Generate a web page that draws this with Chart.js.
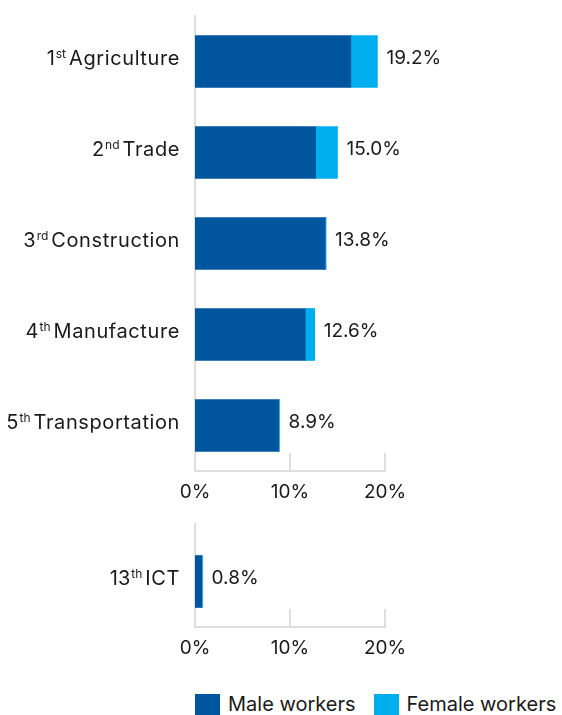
<!DOCTYPE html>
<html><head><meta charset="utf-8">
<script src="https://cdn.jsdelivr.net/npm/chart.js@4.4.1/dist/chart.umd.min.js"></script>
<style>
html,body{margin:0;padding:0;background:#fff;}
canvas{display:block;}
#legend{position:absolute;top:694px;left:195px;width:370px;display:flex;align-items:center;white-space:nowrap;font-family:Inter,sans-serif;font-size:20px;line-height:21px;color:#1a1a1a;letter-spacing:0px;}
#legend .item{display:flex;align-items:center;margin-right:18px;flex:none;}
#legend .box{width:25px;height:21px;margin-right:8px;flex:none;}
</style></head>
<body>
<canvas id="top" width="562" height="505"></canvas>
<canvas id="bot" width="562" height="180"></canvas>
<div id="legend"></div>
<script>
// ---- data ----
const ranks = ['1', '2', '3', '4', '5'];
const suffixes = ['st', 'nd', 'rd', 'th', 'th'];
const categories = ['Agriculture', 'Trade', 'Construction', 'Manufacture', 'Transportation'];
const maleValues = [16.4, 12.7, 13.7, 11.6, 8.8];
const femaleValues = [2.8, 2.3, 0.1, 1.0, 0.1];

const ranksB = ['13'];
const suffixesB = ['th'];
const categoriesB = ['ICT'];
const maleValuesB = [0.7];
const femaleValuesB = [0.1];

const xTicks = [0, 10, 20];
const seriesNames = ['Male workers', 'Female workers'];

// ---- style ----
const DARK = '#00559F';
const LIGHT = '#00AEEF';
const GRID = '#dedede';
const TEXT = '#1a1a1a';
const FONT = 'Inter';
const FS = 19;
const LFS = 20;

const customPlugin = {
  id: 'custom',
  afterDraw(chart, args, opts) {
    const {ctx, chartArea, scales: {x, y}} = chart;
    ctx.save();
    ctx.strokeStyle = GRID; ctx.lineWidth = 2;
    xTicks.forEach(v => {
      if (v === 0) return;
      const px = x.getPixelForValue(v);
      ctx.beginPath(); ctx.moveTo(px, chartArea.bottom - 18); ctx.lineTo(px, chartArea.bottom); ctx.stroke();
    });
    if (opts.extendTop) {
      ctx.beginPath(); ctx.moveTo(chartArea.left, chartArea.top - opts.extendTop); ctx.lineTo(chartArea.left, chartArea.top); ctx.stroke();
    }
    // category labels with superscript ranks
    ctx.fillStyle = TEXT;
    ctx.textBaseline = 'alphabetic';
    const rightX = chartArea.left - 15;
    chart.data.labels.forEach((name, i) => {
      const py = y.getPixelForValue(i) + 3;
      ctx.letterSpacing = '0.6px';
      ctx.font = LFS + 'px ' + FONT;
      ctx.textAlign = 'right';
      ctx.fillText(name, rightX, py);
      const wName = ctx.measureText(name).width;
      ctx.letterSpacing = '0px';
      ctx.font = '12px ' + FONT;
      const sx = rightX - wName - 3;
      ctx.fillText(opts.suffixes[i], sx, py - 7);
      const wSuf = ctx.measureText(opts.suffixes[i]).width;
      ctx.font = LFS + 'px ' + FONT;
      ctx.fillText(opts.ranks[i], sx - wSuf - 1, py);
    });
    // total value labels
    ctx.letterSpacing = '0px';
    ctx.textAlign = 'left';
    ctx.textBaseline = 'middle';
    ctx.font = FS + 'px ' + FONT;
    chart.data.labels.forEach((_, i) => {
      const total = chart.data.datasets.reduce((s, d) => s + d.data[i], 0);
      const px = x.getPixelForValue(total) + 9;
      const py = y.getPixelForValue(i) - 3;
      ctx.fillText(total.toFixed(1) + '%', px, py);
    });
    ctx.restore();
  }
};

function makeChart(id, labels, male, female, rk, sf, opts) {
  return new Chart(document.getElementById(id), {
    type: 'bar',
    data: {
      labels: labels,
      datasets: [
        {label: seriesNames[0], data: male, backgroundColor: DARK, barThickness: 52},
        {label: seriesNames[1], data: female, backgroundColor: LIGHT, barThickness: 52}
      ]
    },
    plugins: [customPlugin],
    options: {
      indexAxis: 'y',
      responsive: false,
      animation: false,
      devicePixelRatio: 1,
      layout: {padding: {left: 195, right: 177, top: opts.top, bottom: 0}},
      plugins: {
        tooltip: {enabled: false},
        legend: {display: false},
        custom: {ranks: rk, suffixes: sf, extendTop: opts.extendTop || 0}
      },
      scales: {
        x: {
          stacked: true, min: 0, max: 20,
          afterBuildTicks: s => { s.ticks = xTicks.map(v => ({value: v})); },
          afterFit: s => { s.height = opts.xh; },
          ticks: {callback: v => v + '%', color: TEXT, font: {family: FONT, size: FS}, padding: 2, maxRotation: 0},
          grid: {display: false},
          border: {display: true, color: GRID, width: 2}
        },
        y: {
          stacked: true,
          afterFit: s => { s.width = 0; },
          ticks: {display: false},
          grid: {display: false},
          border: {display: true, color: GRID, width: 2}
        }
      }
    }
  });
}

const c1 = makeChart('top', categories, maleValues, femaleValues, ranks, suffixes, {top: 16, xh: 34});
makeChart('bot', categoriesB, maleValuesB, femaleValuesB, ranksB, suffixesB, {top: 31, xh: 58, extendTop: 13});

// legend built from the chart's datasets
const legendEl = document.getElementById('legend');
c1.data.datasets.forEach(ds => {
  const item = document.createElement('div'); item.className = 'item';
  const box = document.createElement('div'); box.className = 'box'; box.style.background = ds.backgroundColor;
  const txt = document.createElement('span'); txt.textContent = ds.label;
  item.appendChild(box); item.appendChild(txt); legendEl.appendChild(item);
});
</script>
</body></html>
